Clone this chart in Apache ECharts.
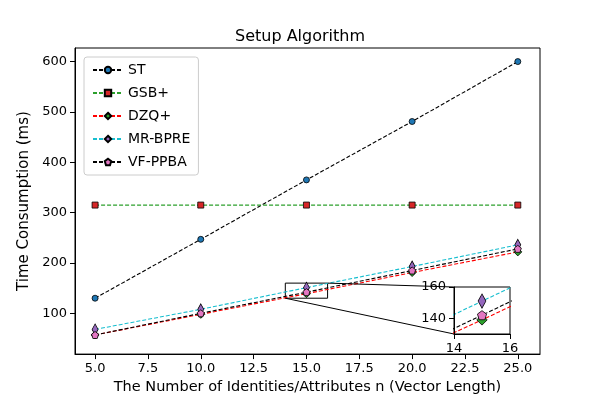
<!DOCTYPE html><html><head><meta charset="utf-8"><script src="https://cdn.jsdelivr.net/npm/echarts@6/dist/echarts.min.js"></script></head><body style="margin:0"><div id="c" style="width:600px;height:400px"></div><script>
const xs=[5,10,15,20,25];
const ST=[130,247,365,481,600];
const GSB=[315,315,315,315,315];
const DZQ=[57,98,139,181,222];
const MR=[68,108,151,193,236];
const VF=[57,100,142,185,228];
const names=['ST','GSB+','DZQ+','MR-BPRE','VF-PPBA'];
const xTicks=[5,7.5,10,12.5,15,17.5,20,22.5,25];
const yTicks=[100,200,300,400,500,600];
const vals=[ST,GSB,DZQ,MR,VF];
const lineC=['#000','#2ca02c','#ff0000','#17becf','#000'];
const fillC=['#1f77b4','#d62728','#2ca02c','#9467bd','#e377c2'];
const sym=['circle','rect','diamond','diamond','path://M0,-1L0.95,-0.31L0.59,0.81L-0.59,0.81L-0.95,-0.31Z'];
const symS=[6,6,8,[6,11],7];
const ser=[];
for(let g=0;g<2;g++)names.forEach((n,i)=>ser.push({name:n,type:'line',xAxisIndex:g,yAxisIndex:g,data:xs.map((x,j)=>[x,vals[i][j]]),
 symbol:sym[i],symbolSize:g?(Array.isArray(symS[i])?[symS[i][0]*1.3,symS[i][1]*1.3]:symS[i]*1.3):symS[i],showSymbol:true,clip:true,
 lineStyle:{color:lineC[i],type:[4,2],width:1.1,opacity:1},itemStyle:{color:fillC[i],borderColor:'#000',borderWidth:0.8},z:g?5:2,
 emphasis:{disabled:true},
 markArea:(g==0&&i==0)?{silent:true,itemStyle:{color:'none',borderColor:'#000',borderWidth:1},data:[[{coord:[14,130]},{coord:[16,160]}]]}:undefined}));
const ax={axisLine:{lineStyle:{color:'#000'}},axisTick:{lineStyle:{color:'#000'}},axisLabel:{color:'#000',fontSize:13,fontFamily:'DejaVu Sans'},splitLine:{show:false}};
const c=echarts.init(document.getElementById('c'));
c.setOption({animation:false,textStyle:{fontFamily:'DejaVu Sans'},
title:{text:'Setup Algorithm',left:'center',top:24,textStyle:{fontSize:16,fontWeight:'normal',color:'#000'}},
legend:{data:names,orient:'vertical',left:84,top:57,itemWidth:30,itemHeight:8,itemGap:9,textStyle:{fontSize:14,color:'#000'},backgroundColor:'#fff',borderColor:'#ccc',borderWidth:1,borderRadius:3,padding:[6,8]},
grid:[{left:75,right:60,top:48,bottom:38,show:true,borderColor:'#000',backgroundColor:'transparent'},{left:454,right:90,top:287,bottom:66,show:true,borderColor:'#000',backgroundColor:'#fff',z:4}],
xAxis:[Object.assign({},ax,{type:'value',min:4.05,max:26.05,name:'The Number of Identities/Attributes n (Vector Length)',nameLocation:'middle',nameGap:24,nameTextStyle:{fontSize:14.5,color:'#000'},axisTick:{lineStyle:{color:'#000'},customValues:xTicks},axisLabel:Object.assign({},ax.axisLabel,{customValues:xTicks,formatter:v=>v.toFixed(1)})}),
 Object.assign({},ax,{type:'value',gridIndex:1,min:14,max:16,interval:2,z:6})],
yAxis:[Object.assign({},ax,{type:'value',min:19,max:627,name:'Time Consumption (ms)',nameLocation:'middle',nameGap:42,nameTextStyle:{fontSize:15,color:'#000'},axisTick:{lineStyle:{color:'#000'},customValues:yTicks},axisLabel:Object.assign({},ax.axisLabel,{customValues:yTicks})}),
 Object.assign({},ax,{type:'value',gridIndex:1,min:130,max:160,z:6,axisTick:{lineStyle:{color:'#000'},customValues:[140,160]},axisLabel:Object.assign({},ax.axisLabel,{fontSize:13,customValues:[140,160]})})],
series:ser});
const a=c.convertToPixel({gridIndex:0},[16,160]),b=c.convertToPixel({gridIndex:0},[14,130]);
const p=c.convertToPixel({gridIndex:1},[14,160]),q=c.convertToPixel({gridIndex:1},[14,130]);
c.setOption({graphic:[{type:'line',shape:{x1:a[0],y1:a[1],x2:p[0],y2:p[1]},style:{stroke:'#000',lineWidth:1},z:3},{type:'line',shape:{x1:b[0],y1:b[1],x2:q[0],y2:q[1]},style:{stroke:'#000',lineWidth:1},z:3}]});
</script></body></html>
